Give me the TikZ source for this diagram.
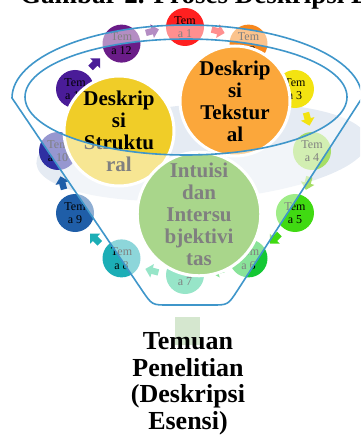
\documentclass[tikz,border=0pt]{standalone}
\usepackage{fontspec}
\setmainfont{Liberation Serif}
\definecolor{c1}{HTML}{FF2020}
\definecolor{c2}{HTML}{F7871C}
\definecolor{c3}{HTML}{F3E311}
\definecolor{c4}{HTML}{A6DE66}
\definecolor{c5}{HTML}{40DA12}
\definecolor{c6}{HTML}{14C834}
\definecolor{c7}{HTML}{30CC92}
\definecolor{c8}{HTML}{1CAEB6}
\definecolor{c9}{HTML}{1F5EA8}
\definecolor{c10}{HTML}{2F2FA2}
\definecolor{c11}{HTML}{4A1C98}
\definecolor{c12}{HTML}{6A1C88}
\definecolor{yel}{HTML}{F0CD28}
\definecolor{ora}{HTML}{FBA73B}
\definecolor{grn}{HTML}{53AD17}
\definecolor{grayell}{HTML}{E5EBF3}
\definecolor{lineblue}{HTML}{3F96CA}
\definecolor{stem}{HTML}{D5E7CF}
\begin{document}
\begin{tikzpicture}[x=1pt,y=-1pt,
  tema/.style={circle, minimum size=38pt, inner sep=0pt, align=center, font=\fontsize{12}{13.5}\selectfont},
  big/.style={circle, minimum size=110pt, inner sep=0pt, draw=white, line width=3pt, align=center, font=\fontsize{21}{22}\selectfont\bfseries},
  funnelline/.style={draw=lineblue, line width=1.6pt},
  bigtext/.style={font=\fontsize{26}{26.5}\selectfont\bfseries, align=center, inner sep=0pt}
]
\useasboundingbox (0,0) rectangle (360,435);
\clip (0,0) rectangle (360,435);
% background grey ellipse
\fill[grayell, shift={(202,152)}, rotate=4] (0,0) ellipse [x radius=166, y radius=48];
% arrows of the cycle
\foreach \k in {1,3,4,5,6,7,8,9,11,12}{
  \pgfmathsetmacro\ang{75-30*(\k-1)}
  \pgfmathsetmacro\rot{\ang-90}
  \fill[c\k, shift={({185+127*cos(\ang)},{151-124*sin(\ang)})}, rotate=\rot]
    (-6.5,-3.2) -- (0,-3.2) -- (0,-7) -- (7,0) -- (0,7) -- (0,3.2) -- (-6.5,3.2) -- cycle;
}
% theme circles
\foreach \k in {1,...,12}{
  \pgfmathsetmacro\ang{90-30*(\k-1)}
  \node[tema, fill=c\k] (tema\k) at ({185+127*cos(\ang)},{151-124*sin(\ang)}) {Tem\\a \k};
}
% big circles
\node[big, fill=yel] (struk) at (119,131) {Deskrip\\si\\Struktu\\ral};
\node[big, fill=ora] (teks) at (235,101) {Deskrip\\si\\Tekstur\\al};
\node[big, fill=grn] (intu) at (199,214) {Intuisi\\dan\\Intersu\\bjektivi\\tas};
% funnel
\def\funnelpath{(12,98) arc[start angle=180, end angle=360, x radius=175, y radius=73]
  -- (237.8,289.9) .. controls (228,305) .. (212,305) -- (168,305)
  .. controls (152,305) .. (141.9,290.1) -- cycle}
\fill[white, fill opacity=0.5, even odd rule] \funnelpath (186,97) ellipse [x radius=161, y radius=58];
\fill[stem] (175,317) rectangle (200,345);
\draw[funnelline] \funnelpath;
\draw[funnelline] (186,97) ellipse [x radius=161, y radius=58];
% texts
\node[bigtext, anchor=north] (temuan) at (188,332.5) {Temuan\\Penelitian\\(Deskripsi\\Esensi)};
\node[font=\fontsize{27}{27}\selectfont\bfseries, inner sep=0pt, anchor=base west] (title) at (20,4) {Gambar 2. Proses Deskripsi E};
\end{tikzpicture}
\end{document}
